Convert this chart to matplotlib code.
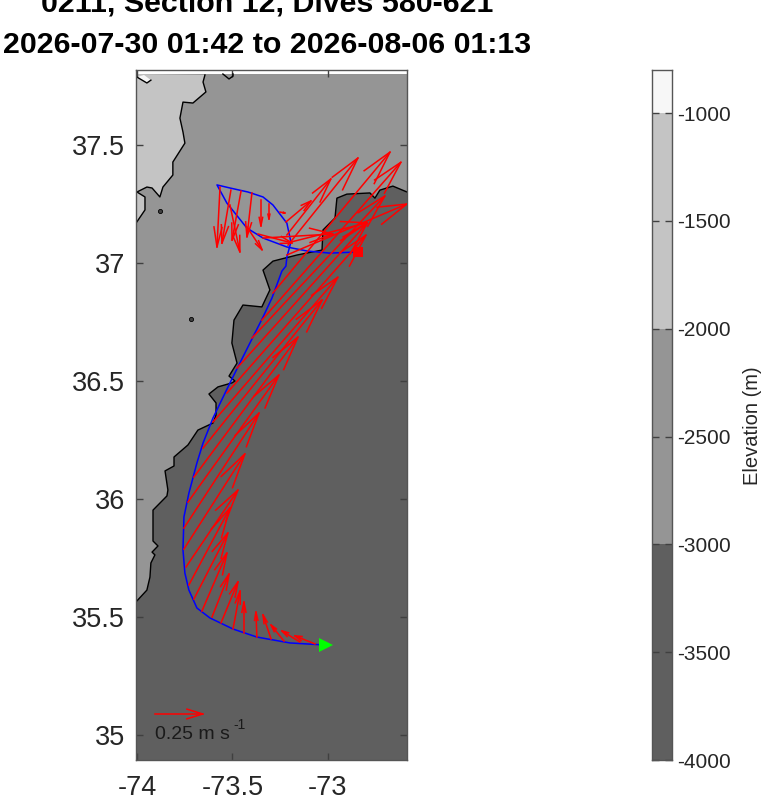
import matplotlib
matplotlib.use('Agg')
import matplotlib.pyplot as plt
import numpy as np

plt.rcParams['font.family'] = ['Liberation Sans', 'DejaVu Sans']

# bathymetry contours (lon, lat)
c3000_lon = [-74.005, -73.948, -73.932, -73.927, -73.906, -73.921, -73.890, -73.916, -73.916, -73.843,
             -73.838, -73.853, -73.806, -73.806, -73.733, -73.681, -73.602, -73.586, -73.586, -73.623,
             -73.576, -73.503, -73.487, -73.518, -73.476, -73.503, -73.492, -73.445, -73.346, -73.304,
             -73.340, -73.288, -73.162, -73.031, -73.026, -72.963, -72.953, -72.901, -72.780, -72.754,
             -72.728, -72.660, -72.586]
c3000_lat = [35.564, 35.614, 35.669, 35.729, 35.763, 35.775, 35.801, 35.822, 35.953, 36.013,
             36.038, 36.119, 36.140, 36.178, 36.229, 36.292, 36.322, 36.356, 36.407, 36.445,
             36.475, 36.492, 36.500, 36.521, 36.576, 36.661, 36.758, 36.822, 36.814, 36.886,
             36.970, 37.008, 37.034, 37.055, 37.140, 37.191, 37.275, 37.292, 37.297, 37.275,
             37.309, 37.326, 37.301]
c2000_lon = [-74.005, -73.958, -73.958, -74.000, -73.948, -73.921, -73.880, -73.864, -73.812, -73.812,
             -73.749, -73.759, -73.775, -73.759, -73.707, -73.639, -73.654, -73.644]
c2000_lat = [37.169, 37.225, 37.280, 37.301, 37.322, 37.318, 37.280, 37.322, 37.373, 37.428,
             37.508, 37.555, 37.614, 37.682, 37.678, 37.725, 37.767, 37.797]
c1000_lon = [-74.000, -73.948, -73.927, -73.963]
c1000_lat = [37.788, 37.763, 37.775, 37.797]
notch_lon = [-73.550, -73.518, -73.497, -73.497]
notch_lat = [37.801, 37.780, 37.792, 37.801]
seamount_lon = [-73.880, -73.717]
seamount_lat = [37.220, 36.763]
map_west, map_east, map_south, map_north = -74.005, -72.586, 34.894, 37.801

# glider track
track_lon = [-73.010, -73.199, -73.372, -73.497, -73.618, -73.686, -73.728, -73.749, -73.759, -73.754,
             -73.728, -73.686, -73.654, -73.602, -73.513, -73.445, -73.393, -73.340, -73.293, -73.241,
             -73.220, -73.215, -73.194, -73.215, -73.288, -73.340, -73.419, -73.513, -73.581, -73.529,
             -73.424, -73.340, -73.215, -73.110, -72.990, -72.840]
track_lat = [35.381, 35.390, 35.415, 35.449, 35.496, 35.538, 35.614, 35.686, 35.784, 35.924,
             36.025, 36.153, 36.237, 36.343, 36.492, 36.602, 36.686, 36.771, 36.852, 36.966,
             36.987, 37.025, 37.089, 37.169, 37.246, 37.280, 37.301, 37.318, 37.331, 37.254,
             37.148, 37.106, 37.068, 37.051, 37.042, 37.047]

# depth average currents, m/s
dac_lon = [-73.068, -73.147, -73.230, -73.298, -73.372, -73.440, -73.497, -73.560, -73.607, -73.660,
           -73.702, -73.728, -73.743, -73.754, -73.754, -73.733, -73.702, -73.654, -73.602, -73.529,
           -73.476, -73.398, -73.346, -73.288, -73.209, -73.215, -73.220, -73.251, -73.309, -73.351,
           -73.398, -73.455, -73.508, -73.565, -73.513, -73.424, -73.366, -73.340, -73.215, -73.194]
dac_lat = [35.386, 35.394, 35.398, 35.407, 35.415, 35.432, 35.449, 35.475, 35.500, 35.525,
           35.576, 35.636, 35.712, 35.788, 35.877, 35.987, 36.093, 36.216, 36.326, 36.449,
           36.555, 36.682, 36.758, 36.873, 37.076, 37.119, 37.174, 37.216, 37.250, 37.267,
           37.297, 37.305, 37.309, 37.322, 37.246, 37.153, 37.123, 37.106, 37.034, 37.089]
dac_u = [-.105, -.094, -.068, -.042, -.005, 0, .037, .089, .089, .131,
         .178, .215, .272, .319, .393, .476, .545, .623, .654, .728,
         .681, .696, .728, .613, .366, .230, .131, .026, 0, 0,
         -.026, -.047, -.047, -.016, .052, .079, .178, .366, .628, .398]
dac_v = [.034, .047, .068, .102, .106, .131, .161, .174, .182, .246,
         .280, .326, .326, .403, .487, .538, .593, .627, .614, .669,
         .614, .602, .669, .597, .369, .237, .089, -.004, -.064, -.110,
         -.186, -.208, -.225, -.254, -.199, -.097, -.038, .017, .216, .081]

# colorbar
cbar_levels = [-4000, -3000, -2000, -1000, -800]
cbar_colors = ['#5f5f5f', '#959595', '#c4c4c4', '#f7f7f7']
cbar_ticks = [-4000, -3500, -3000, -2500, -2000, -1500, -1000]
cbar_labels = ['-4000', '-3500', '-3000', '-2500', '-2000', '-1500', '-1000']

x_ticks = [-74, -73.5, -73]
x_labels = ['-74', '-73.5', '-73']
y_ticks = [35, 35.5, 36, 36.5, 37, 37.5]
y_labels = ['35', '35.5', '36', '36.5', '37', '37.5']
edge = '#404040'


def draw_arrow(ax, x, y, u, v):
    # same barbs as matlab quiver, worked out in data units, head size capped
    alpha = min(0.33, 0.152 / np.hypot(u, v))
    beta = 0.25
    ax.plot([x, x + u], [y, y + v], color='r', lw=1.1, zorder=4)
    bx = [x + u - alpha * (u + beta * v), x + u, x + u - alpha * (u - beta * v)]
    by = [y + v - alpha * (v - beta * u), y + v, y + v - alpha * (v + beta * u)]
    ax.plot(bx, by, color='r', lw=1.1, zorder=4)


W, H = 766, 800
fig = plt.figure(figsize=(W / 100, H / 100), dpi=100)
ax = fig.add_axes([136 / W, 1 - 760 / H, 271 / W, 690 / H])

ax.set_xlim(map_west, map_east)
ax.set_ylim(map_south, 37.818)

ax.fill([map_west, map_east, map_east, map_west], [map_south, map_south, map_north, map_north],
        color=cbar_colors[0], lw=0, zorder=1)
ax.fill(c3000_lon + [map_east, map_west], c3000_lat + [map_north, map_north],
        color=cbar_colors[1], lw=0, zorder=1.1)
ax.fill(c2000_lon + [map_west], c2000_lat + [map_north], color=cbar_colors[2], lw=0, zorder=1.2)
ax.fill(c1000_lon, c1000_lat, color=cbar_colors[3], lw=0, zorder=1.3)
ax.plot(c3000_lon, c3000_lat, color='k', lw=1.0, zorder=2)
ax.plot(c2000_lon, c2000_lat, color='k', lw=1.0, zorder=2)
ax.plot(c1000_lon[:3], c1000_lat[:3], color='k', lw=1.0, zorder=2)
ax.plot(notch_lon, notch_lat, color='k', lw=1.0, zorder=2)
ax.plot(seamount_lon, seamount_lat, 'o', mfc='#404040', mec='k', ms=3, mew=0.6, zorder=2)

ax.plot(track_lon, track_lat, color='b', lw=1.1, zorder=3)
for i in range(len(dac_lon)):
    draw_arrow(ax, dac_lon[i], dac_lat[i], dac_u[i], dac_v[i])

ax.plot(track_lon[-1], track_lat[-1], 's', color='r', ms=7, mew=0, zorder=5)
ax.plot(track_lon[0], track_lat[0], '>', color='#00ff00', ms=10.5, mew=0, zorder=5)

# scale arrow
draw_arrow(ax, -73.906, 35.089, 0.25, 0)
ax.text(-73.906, 35.0, '0.25 m s', fontsize=14, color='#1a1a1a', va='center', zorder=5)
ax.text(-73.497, 35.042, '-1', fontsize=10, color='#1a1a1a', va='center', zorder=5)

ax.set_xticks(x_ticks, x_labels)
ax.set_yticks(y_ticks, y_labels)
ax.tick_params(direction='in', length=5, width=1.0, color=edge, labelcolor='#262626', labelsize=19.5,
               top=True, right=True)
ax.tick_params(axis='x', pad=10.5)
ax.tick_params(axis='y', pad=8)
for s in ax.spines.values():
    s.set_color('#555555')
    s.set_linewidth(1.0)

fig.text(267 / W, 1 - 53 / H, '2026-07-30 01:42 to 2026-08-06 01:13', fontsize=21.9, fontweight='bold',
         ha='center', va='baseline', color='k')
fig.text(267 / W, 1 - 12 / H, '0211, Section 12, Dives 580-621', fontsize=21.9, fontweight='bold',
         ha='center', va='baseline', color='k')

cax = fig.add_axes([652 / W, 1 - 760 / H, 20 / W, 690 / H])
for i in range(len(cbar_colors)):
    cax.bar(0, cbar_levels[i + 1] - cbar_levels[i], bottom=cbar_levels[i], width=1, color=cbar_colors[i], lw=0)
cax.set_xlim(-0.5, 0.5)
cax.set_ylim(-4000, -800)
cax.set_xticks([])
cax.set_yticks(cbar_ticks, cbar_labels)
cax.yaxis.tick_right()
cax.tick_params(direction='in', length=5, width=1.0, color=edge, labelcolor='#262626', labelsize=15, pad=4,
                left=True, right=True)
for s in cax.spines.values():
    s.set_color('#555555')
    s.set_linewidth(1.0)
fig.text(753 / W, 1 - 426 / H, 'Elevation (m)', fontsize=14.5, color='#262626', rotation=90,
         ha='center', va='center')

fig.savefig('out.png', dpi=100)
